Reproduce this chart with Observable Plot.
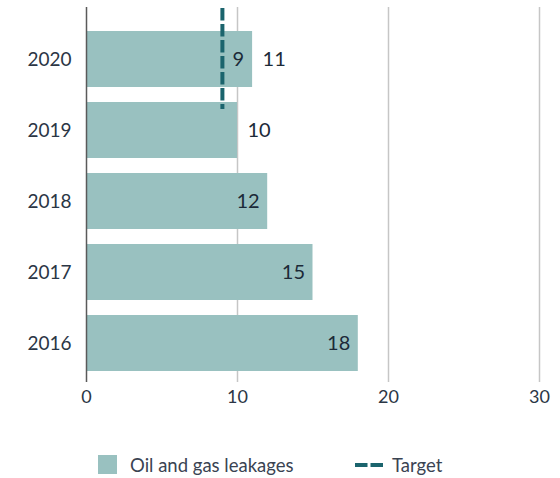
<!DOCTYPE html>
<html><head><meta charset="utf-8">
<script src="https://cdn.jsdelivr.net/npm/d3@7"></script>
<script src="https://cdn.jsdelivr.net/npm/@observablehq/plot@0.6"></script>
<style>
body{margin:0;background:#fff;font-family:Lato,"Open Sans",sans-serif;}
#wrap{width:560px;}
#legend{position:relative;height:58px;color:#3a4352;font-size:18.5px;}
.item{position:absolute;top:35px;display:flex;align-items:center;height:19px;}
.sw{width:19px;height:19px;background:#99c1c0;margin-right:13px;}
</style></head><body>
<div id="wrap"><div id="chart"></div>
<div id="legend">
  <div class="item" style="left:98px"><div class="sw"></div><span>Oil and gas leakages</span></div>
  <div class="item" style="left:355px"><svg width="28" height="4" style="margin-right:9px"><line x1="0" x2="28" y1="2" y2="2" stroke="#1b646d" stroke-width="4" stroke-dasharray="12.5 3"/></svg><span>Target</span></div>
</div></div>
<script>
const years = ["2020", "2019", "2018", "2017", "2016"];
const leakages = [11, 10, 12, 15, 18];
const outsideLabelYears = ["2020", "2019"];
const targetYears = ["2020"];
const targetValues = [9];
const xTicks = [0, 10, 20, 30];
const gridTicks = [10, 20, 30];

const data = years.map((y, i) => ({year: y, value: leakages[i], outside: outsideLabelYears.includes(y)}));
const targets = targetYears.map((y, i) => ({year: y, value: targetValues[i]}));

const chart = Plot.plot({
  width: 560,
  height: 420,
  marginLeft: 86,
  marginRight: 21,
  marginTop: 7,
  marginBottom: 38,
  style: {fontFamily: "Lato, 'Open Sans', sans-serif", color: "#2b3645", background: "#fff"},
  x: {domain: [0, 30]},
  y: {domain: years, paddingInner: 0.21, paddingOuter: 0.235, align: 0.68},
  marks: [
    Plot.ruleX(gridTicks, {stroke: "#c6c6c6", strokeWidth: 1.5}),
    Plot.barX(data, {y: "year", x: "value", fill: "#99c1c0"}),
    Plot.ruleX([0], {stroke: "#5a5a5a", strokeWidth: 1.5}),
    Plot.tickX(targets, {x: "value", y: "year", stroke: "#1b646d", strokeWidth: 4, strokeDasharray: "12.5 3.5", insetTop: -23, insetBottom: -22}),
    Plot.text(targets, {x: "value", y: "year", text: d => String(d.value), textAnchor: "start", dx: 10, fontSize: 20, fill: "#1c2a38"}),
    Plot.text(data.filter(d => !d.outside), {x: "value", y: "year", text: d => String(d.value), textAnchor: "end", dx: -8, fontSize: 20, fill: "#1c2a38"}),
    Plot.text(data.filter(d => d.outside), {x: "value", y: "year", text: d => String(d.value), textAnchor: "start", dx: 10, fontSize: 20, fill: "#1c2a38"}),
    Plot.axisY({tickSize: 0, tickPadding: 15, fontSize: 19, label: null}),
    Plot.axisX({ticks: xTicks, tickSize: 0, tickPadding: 8, fontSize: 18, label: null})
  ]
});
document.getElementById("chart").appendChild(chart);
</script></body></html>
